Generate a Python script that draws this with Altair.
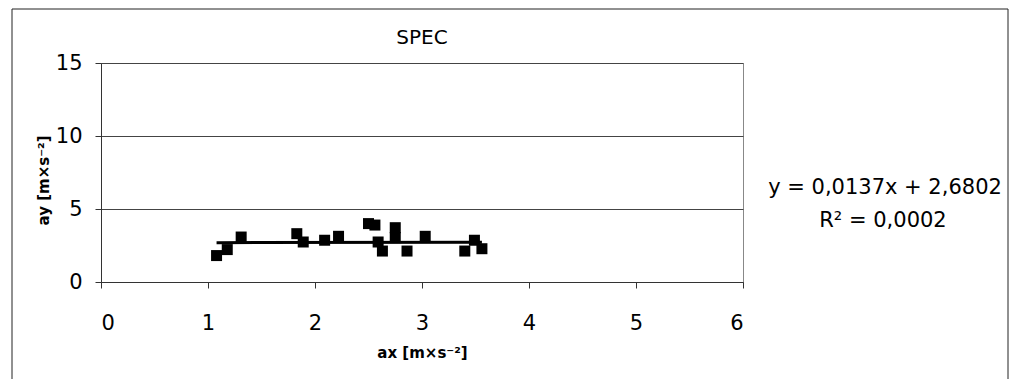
import altair as alt
import pandas as pd

# data
ax_vals = [1.08, 1.18, 1.31, 1.83, 1.89, 2.09, 2.22, 2.50, 2.56, 2.59, 2.63, 2.75, 2.75, 2.86, 3.03, 3.40, 3.49, 3.56]
ay_vals = [1.81, 2.22, 3.08, 3.31, 2.74, 2.86, 3.13, 4.00, 3.90, 2.74, 2.12, 3.72, 3.04, 2.12, 3.13, 2.12, 2.86, 2.28]

slope = 0.0137
intercept = 2.6802
eq_lines = ["y = 0,0137x + 2,6802", "R² = 0,0002"]
chart_title = ["SPEC"]
x_title = "ax [m×s⁻²]"
y_title = "ay [m×s⁻²]"
x_ticks = [0, 1, 2, 3, 4, 5, 6]
y_ticks = [0, 5, 10, 15]

FONT = "DejaVu Sans"

pts = pd.DataFrame({"ax": ax_vals, "ay": ay_vals})
tx = [min(ax_vals), max(ax_vals)]
trend = pd.DataFrame({"ax": tx, "ay": [slope * v + intercept for v in tx]})

xs = alt.Scale(domain=[0, 6], nice=False, zero=False)
ys = alt.Scale(domain=[0, 15], nice=False, zero=False)

xaxis = alt.Axis(values=x_ticks, format="d", grid=False, tickSize=6, tickColor="#333333",
                 domainColor="#333333", labelFontSize=21, labelColor="black",
                 labelFont=FONT, labelPadding=24, title=x_title, titleFont=FONT,
                 titleFontSize=15, titleFontWeight="bold", titleColor="black",
                 titleX=321, titleY=70, titleBaseline="middle", titleAlign="center")
yaxis = alt.Axis(values=y_ticks, format="d", grid=True, gridColor="#444444", tickSize=6,
                 tickColor="#333333", domainColor="#333333", labelFontSize=21,
                 labelColor="black", labelFont=FONT, labelPadding=13, title=y_title,
                 titleFont=FONT, titleFontSize=15, titleFontWeight="bold",
                 titleColor="black", titleX=-58, titleY=117, titleAngle=270,
                 titleBaseline="middle", titleAlign="center")

scatter = alt.Chart(pts).mark_square(size=121, color="black", opacity=1).encode(
    x=alt.X("ax:Q", scale=xs, axis=xaxis),
    y=alt.Y("ay:Q", scale=ys, axis=yaxis),
)
line = alt.Chart(trend).mark_line(color="black", strokeWidth=3).encode(
    x=alt.X("ax:Q", scale=xs), y=alt.Y("ay:Q", scale=ys)
)

eq = pd.DataFrame({"t": eq_lines, "px": [784, 782], "py": [125, 158]})
eq_text = alt.Chart(eq).mark_text(font=FONT, fontSize=21, color="black",
                                  baseline="middle", align="center").encode(
    text="t:N", x=alt.X("px:Q", scale=None), y=alt.Y("py:Q", scale=None)
)
ttl = pd.DataFrame({"t": chart_title})
title_text = alt.Chart(ttl).mark_text(font=FONT, fontSize=20, color="black",
                                      baseline="middle", align="center").encode(
    text="t:N", x=alt.value(321), y=alt.value(-25)
)

border = pd.DataFrame({"x1": [-89, -89, 907], "x2": [907, -89, 907],
                       "y1": [-54, -54, -54], "y2": [-54, 320, 320]})
frame = alt.Chart(border).mark_rule(color="#222222", strokeWidth=1).encode(
    x=alt.X("x1:Q", scale=None), x2="x2:Q",
    y=alt.Y("y1:Q", scale=None), y2="y2:Q"
)

chart = alt.layer(frame, scatter, line, eq_text, title_text).properties(
    width=642, height=219,
    autosize=alt.AutoSizeParams(type="none"),
    padding={"left": 101, "top": 63, "right": 268, "bottom": 97},
    background="white",
).configure_view(stroke="#888888", strokeWidth=1)

chart.save("out.html", embed_options={"renderer": "svg", "actions": False})
